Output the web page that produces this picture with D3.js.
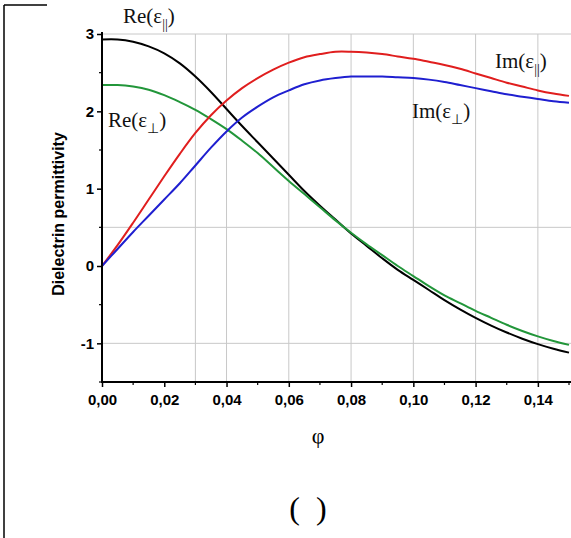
<!DOCTYPE html>
<html>
<head>
<meta charset="utf-8">
<script src="https://cdn.jsdelivr.net/npm/d3@7"></script>
<style>
html,body{margin:0;padding:0;background:#fff;}
svg{display:block;}
</style>
</head>
<body>
<svg id="chart" width="571" height="538"></svg>
<script>
// ---- data ----
const phi = [0,0.005,0.01,0.015,0.02,0.025,0.03,0.035,0.04,0.045,0.05,0.055,0.06,0.065,0.07,0.075,0.08,0.085,0.09,0.095,0.10,0.105,0.11,0.115,0.12,0.125,0.13,0.135,0.14,0.145,0.15];
const reParallel = [2.93,2.93,2.90,2.84,2.75,2.62,2.45,2.25,2.03,1.81,1.60,1.39,1.18,0.97,0.78,0.60,0.42,0.26,0.10,-0.05,-0.18,-0.31,-0.44,-0.56,-0.67,-0.77,-0.86,-0.94,-1.01,-1.07,-1.12];
const rePerp = [2.34,2.34,2.32,2.28,2.21,2.12,2.02,1.90,1.77,1.62,1.46,1.28,1.10,0.93,0.76,0.59,0.43,0.28,0.14,0.00,-0.13,-0.26,-0.38,-0.48,-0.58,-0.67,-0.76,-0.84,-0.91,-0.97,-1.02];
const imParallel = [0,0.27,0.56,0.86,1.16,1.45,1.72,1.95,2.14,2.30,2.43,2.54,2.63,2.70,2.74,2.77,2.77,2.76,2.74,2.71,2.68,2.64,2.60,2.55,2.49,2.43,2.37,2.32,2.27,2.23,2.20];
const imPerp = [0,0.22,0.44,0.65,0.86,1.07,1.30,1.53,1.74,1.92,2.06,2.18,2.27,2.35,2.40,2.43,2.45,2.45,2.45,2.44,2.43,2.41,2.38,2.34,2.30,2.26,2.22,2.19,2.16,2.13,2.11];

const xTicks = [0,0.02,0.04,0.06,0.08,0.10,0.12,0.14];
const xTickLabels = ["0,00","0,02","0,04","0,06","0,08","0,10","0,12","0,14"];
const xMinorTicks = [0.01,0.03,0.05,0.07,0.09,0.11,0.13,0.15];
const yTicks = [-1,0,1,2,3];
const yTickLabels = ["-1","0","1","2","3"];
const yMinorTicks = [-1.5,-0.5,0.5,1.5,2.5];
const xGrid = [0.03,0.04,0.06,0.08,0.10,0.12,0.14];
const yGrid = [-1,0.5,3];

const seriesNames = ["reParallel","rePerp","imParallel","imPerp"];
const seriesColors = {reParallel:"#000000", rePerp:"#22963a", imParallel:"#e01e1e", imPerp:"#1f1fd0"};
const seriesValues = {reParallel, rePerp, imParallel, imPerp};

// ---- drawing ----
const svg = d3.select("#chart");
const x = d3.scaleLinear().domain([0,0.15]).range([102,569]);
const y = d3.scaleLinear().domain([-1.5,3]).range([382,34]);

// frame lines
svg.append("line").attr("x1",4).attr("y1",5).attr("x2",47).attr("y2",5).attr("stroke","#000").attr("stroke-width",1.5);
svg.append("line").attr("x1",4).attr("y1",5).attr("x2",4).attr("y2",538).attr("stroke","#000").attr("stroke-width",1.5);

// grid
const grid = svg.append("g").attr("stroke","#c8c8c8").attr("stroke-width",1);
grid.selectAll(".gx").data(xGrid).join("line")
  .attr("x1",d=>x(d)).attr("x2",d=>x(d)).attr("y1",y(3)).attr("y2",y(-1.5));
grid.selectAll(".gy").data(yGrid).join("line")
  .attr("x1",x(0)).attr("x2",571).attr("y1",d=>y(d)).attr("y2",d=>y(d));

// curves
const line = d3.line().x((d,i)=>x(phi[i])).y(d=>y(d)).curve(d3.curveCatmullRom.alpha(0.5));
seriesNames.forEach(n=>{
  svg.append("path").datum(seriesValues[n])
    .attr("d",line).attr("fill","none")
    .attr("stroke",seriesColors[n]).attr("stroke-width",2);
});

// axes
const xAxis = d3.axisBottom(x).tickValues(xTicks).tickFormat((d,i)=>xTickLabels[i]).tickSize(5).tickSizeOuter(0);
const gx = svg.append("g").attr("transform",`translate(0,${y(-1.5)})`).call(xAxis);
gx.select(".domain").remove();
gx.selectAll(".tick line").attr("stroke","#000").attr("stroke-width",1.5);
gx.selectAll(".tick text").attr("font-family","'Liberation Sans',Arial,sans-serif").attr("font-weight","bold").attr("font-size",15).attr("fill","#000").attr("dy","1.0em");
gx.selectAll(".minor").data(xMinorTicks).join("line").attr("class","minor")
  .attr("x1",d=>x(d)).attr("x2",d=>x(d)).attr("y1",0).attr("y2",3).attr("stroke","#000").attr("stroke-width",1.2);
svg.append("line").attr("x1",x(0)-1).attr("x2",571).attr("y1",y(-1.5)).attr("y2",y(-1.5)).attr("stroke","#000").attr("stroke-width",2);

const yAxis = d3.axisLeft(y).tickValues(yTicks).tickFormat((d,i)=>yTickLabels[i]).tickSize(5).tickSizeOuter(0);
const gy = svg.append("g").attr("transform",`translate(${x(0)},0)`).call(yAxis);
gy.select(".domain").remove();
gy.selectAll(".tick line").attr("stroke","#000").attr("stroke-width",1.5);
gy.selectAll(".tick text").attr("font-family","'Liberation Sans',Arial,sans-serif").attr("font-weight","bold").attr("font-size",15).attr("fill","#000").attr("x",-8);
gy.selectAll(".minor").data(yMinorTicks).join("line").attr("class","minor")
  .attr("x1",-3).attr("x2",0).attr("y1",d=>y(d)).attr("y2",d=>y(d)).attr("stroke","#000").attr("stroke-width",1.2);
svg.append("line").attr("x1",x(0)).attr("x2",x(0)).attr("y1",y(3)-2).attr("y2",y(-1.5)+1).attr("stroke","#000").attr("stroke-width",2);

// axis titles
svg.append("text").attr("transform","translate(64,214) rotate(-90)")
  .attr("text-anchor","middle").attr("font-family","'Liberation Sans',Arial,sans-serif")
  .attr("font-weight","bold").attr("font-size",16).text("Dielectrin permittivity");
svg.append("text").attr("x",318).attr("y",443).attr("text-anchor","middle")
  .attr("font-family","'Liberation Serif','Times New Roman',serif").attr("font-size",22).text("φ");
svg.append("text").attr("x",308).attr("y",519).attr("text-anchor","middle")
  .attr("font-family","'Liberation Serif','Times New Roman',serif").attr("font-size",32)
  .attr("word-spacing","8px").text("( )");

// curve labels
function label(px,py,main,sub){
  const t = svg.append("text").attr("x",px).attr("y",py)
    .attr("font-family","'Liberation Serif','Times New Roman',serif").attr("font-size",21).attr("fill","#111");
  t.append("tspan").text(main);
  t.append("tspan").attr("dy",6).attr("font-size",14).text(sub);
  t.append("tspan").attr("dy",-6).text(")");
}
label(123,23,"Re(ε","||");
label(108,127,"Re(ε","⊥");
label(495,68,"Im(ε","||");
label(412,118,"Im(ε","⊥");
</script>
</body>
</html>
